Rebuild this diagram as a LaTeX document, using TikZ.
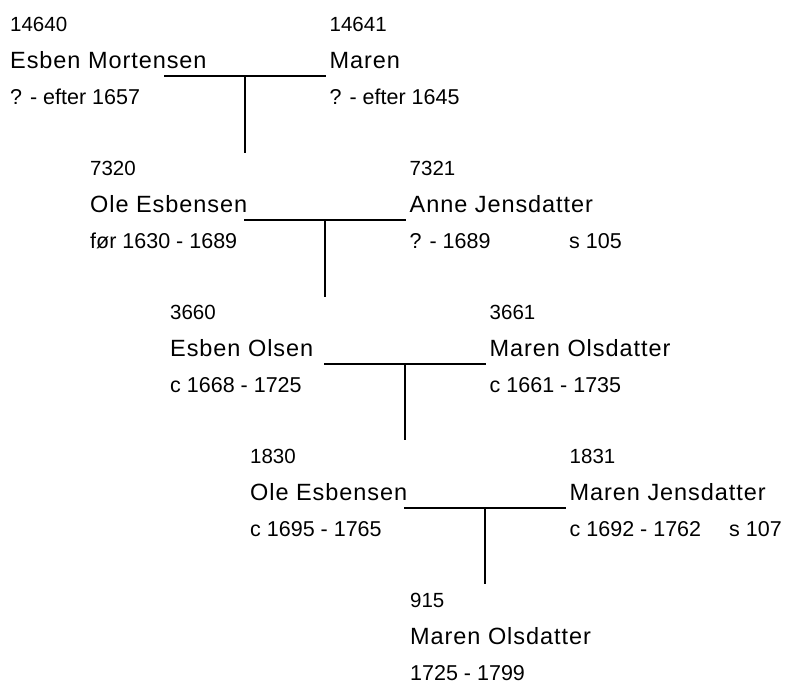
\documentclass[tikz,border=0pt]{standalone}
\usepackage{fontspec}
\setmainfont{Liberation Sans}
\tikzset{
  num/.style={anchor=base west,inner sep=0pt,font=\fontsize{20.5}{24}\selectfont},
  pname/.style={anchor=base west,inner sep=0pt,font=\fontsize{23.5}{28}\selectfont\addfontfeature{LetterSpace=4}},
  pdate/.style={anchor=base west,inner sep=0pt,font=\fontsize{21.5}{25}\selectfont},
  link/.style={line width=1.6pt,line cap=butt}
}
\begin{document}
\begin{tikzpicture}[x=1pt,y=-1pt]
\useasboundingbox (0,0) rectangle (785,684);
% generation 1
\node[num]   (n14640) at (10,31.7) {14640};
\node[pname] (p14640) at (10,68.7) {Esben Mortensen};
\node[pdate] (d14640) at (10,104.7) {? - efter 1657};
\node[num]   (n14641) at (329.5,31.7) {14641};
\node[pname] (p14641) at (329.5,68.7) {Maren};
\node[pdate] (d14641) at (329.5,104.7) {? - efter 1645};
\coordinate (m1a) at (164,76.2);
\coordinate (m1b) at (325.7,76.2);
\coordinate (m1c) at (245,76.2);
\coordinate (m1d) at (245,152.7);
% generation 2
\node[num]   (n7320) at (90,175.6) {7320};
\node[pname] (p7320) at (90,212.6) {Ole Esbensen};
\node[pdate] (d7320) at (90,248.6) {før 1630 - 1689};
\node[num]   (n7321) at (409.5,175.6) {7321};
\node[pname] (p7321) at (409.5,212.6) {Anne Jensdatter};
\node[pdate] (d7321) at (409.5,248.6) {? - 1689};
\node[pdate] (s7321) at (569,248.6) {s 105};
\coordinate (m2a) at (244,220.1);
\coordinate (m2b) at (405.7,220.1);
\coordinate (m2c) at (325,220.1);
\coordinate (m2d) at (325,296.6);
% generation 3
\node[num]   (n3660) at (170,319.5) {3660};
\node[pname] (p3660) at (170,356.5) {Esben Olsen};
\node[pdate] (d3660) at (170,392.5) {c 1668 - 1725};
\node[num]   (n3661) at (489.5,319.5) {3661};
\node[pname] (p3661) at (489.5,356.5) {Maren Olsdatter};
\node[pdate] (d3661) at (489.5,392.5) {c 1661 - 1735};
\coordinate (m3a) at (324,364);
\coordinate (m3b) at (485.7,364);
\coordinate (m3c) at (405,364);
\coordinate (m3d) at (405,440.5);
% generation 4
\node[num]   (n1830) at (250,463.4) {1830};
\node[pname] (p1830) at (250,500.4) {Ole Esbensen};
\node[pdate] (d1830) at (250,536.4) {c 1695 - 1765};
\node[num]   (n1831) at (569.5,463.4) {1831};
\node[pname] (p1831) at (569.5,500.4) {Maren Jensdatter};
\node[pdate] (d1831) at (569.5,536.4) {c 1692 - 1762};
\node[pdate] (s1831) at (729,536.4) {s 107};
\coordinate (m4a) at (404,507.9);
\coordinate (m4b) at (565.7,507.9);
\coordinate (m4c) at (485,507.9);
\coordinate (m4d) at (485,584.4);
% generation 5
\node[num]   (n915) at (410,607.3) {915};
\node[pname] (p915) at (410,644.3) {Maren Olsdatter};
\node[pdate] (d915) at (410,680.3) {1725 - 1799};
% connectors
\draw[link] (m1a) -- (m1b);
\draw[link] (m1c) -- (m1d);
\draw[link] (m2a) -- (m2b);
\draw[link] (m2c) -- (m2d);
\draw[link] (m3a) -- (m3b);
\draw[link] (m3c) -- (m3d);
\draw[link] (m4a) -- (m4b);
\draw[link] (m4c) -- (m4d);
\end{tikzpicture}
\end{document}
